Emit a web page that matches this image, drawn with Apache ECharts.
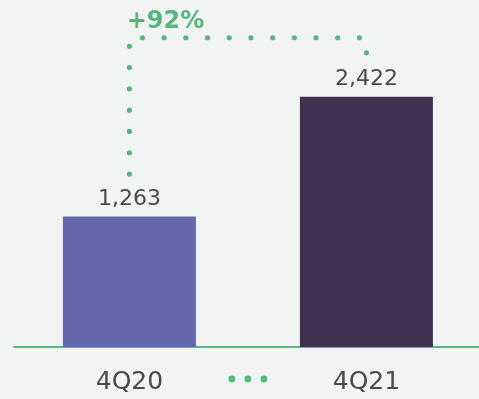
<!DOCTYPE html>
<html>
<head>
<meta charset="utf-8">
<style>
  html, body { margin: 0; padding: 0; background: #f2f4f3; }
  #chart { width: 479px; height: 399px; }
</style>
<script src="https://cdn.jsdelivr.net/npm/echarts@6/dist/echarts.min.js"></script>
</head>
<body>
<div id="chart"></div>
<script>
// Quarterly totals
const categories = ['4Q20', '4Q21'];
const values = [1263, 2422];
const barColors = ['#6568ac', '#413352'];

const green = '#55b87a';
const textColor = '#4a4a4a';

const growthPct = Math.round((values[1] / values[0] - 1) * 100);

const chart = echarts.init(document.getElementById('chart'), null, { renderer: 'canvas' });

// Dotted connector between the two bars with the growth label, plus the
// dotted ellipsis between the axis labels.
function renderConnector(params, api) {
  const p1 = api.coord([0, values[0]]);
  const p2 = api.coord([1, values[1]]);
  const base = api.coord([0, 0]);
  const x1 = p1[0], x2 = p2[0];
  const yTop = p2[1] - 59;
  const children = [];
  const dot = (cx, cy, r) => children.push({
    type: 'circle', shape: { cx, cy, r }, style: { fill: green }
  });
  // left leg
  for (let y = yTop + 8.5; y < p1[1] - 38; y += 21.3) dot(x1, y, 2.6);
  // top run
  const n = 11, xs = x1 + 13, xe = x2 - 7;
  for (let i = 0; i < n; i++) dot(xs + (xe - xs) * i / (n - 1), yTop, 2.6);
  // right leg
  dot(x2, yTop + 15, 2.6);
  // growth label
  children.push({
    type: 'text',
    style: {
      x: x1 + 36, y: yTop - 16, text: '+' + growthPct + '%',
      fill: green, fontSize: 24, fontWeight: 'bold', fontFamily: 'DejaVu Sans',
      align: 'center', verticalAlign: 'middle'
    }
  });
  // ellipsis between axis labels
  const mid = (x1 + x2) / 2;
  for (let k = -1; k <= 1; k++) dot(mid + k * 16, base[1] + 32, 3.4);
  return { type: 'group', children };
}

chart.setOption({
  backgroundColor: '#f2f4f3',
  animation: false,
  grid: { left: 14, right: 0, top: 37, bottom: 52 },
  xAxis: {
    type: 'value',
    min: -0.487, max: 1.475,
    splitLine: { show: false },
    axisLine: { show: true, onZero: false, lineStyle: { color: '#5cb87e', width: 2 } },
    axisTick: { show: false },
    axisLabel: {
      customValues: [0, 1],
      formatter: v => categories[Math.round(v)],
      color: textColor, fontSize: 25, fontFamily: 'DejaVu Sans', margin: 23
    }
  },
  yAxis: {
    type: 'value', min: 0, max: 3000,
    show: false, splitLine: { show: false }
  },
  series: [
    {
      type: 'bar',
      barWidth: 133,
      data: values.map((v, i) => ({ value: [i, v], itemStyle: { color: barColors[i] } })),
      label: {
        show: true, position: 'top', distance: 6,
        color: textColor, fontSize: 22, fontFamily: 'DejaVu Sans',
        formatter: p => p.value[1].toLocaleString('en-US')
      }
    },
    {
      type: 'custom',
      renderItem: renderConnector,
      data: [0],
      silent: true,
      z: 5
    }
  ]
});
</script>
</body>
</html>
